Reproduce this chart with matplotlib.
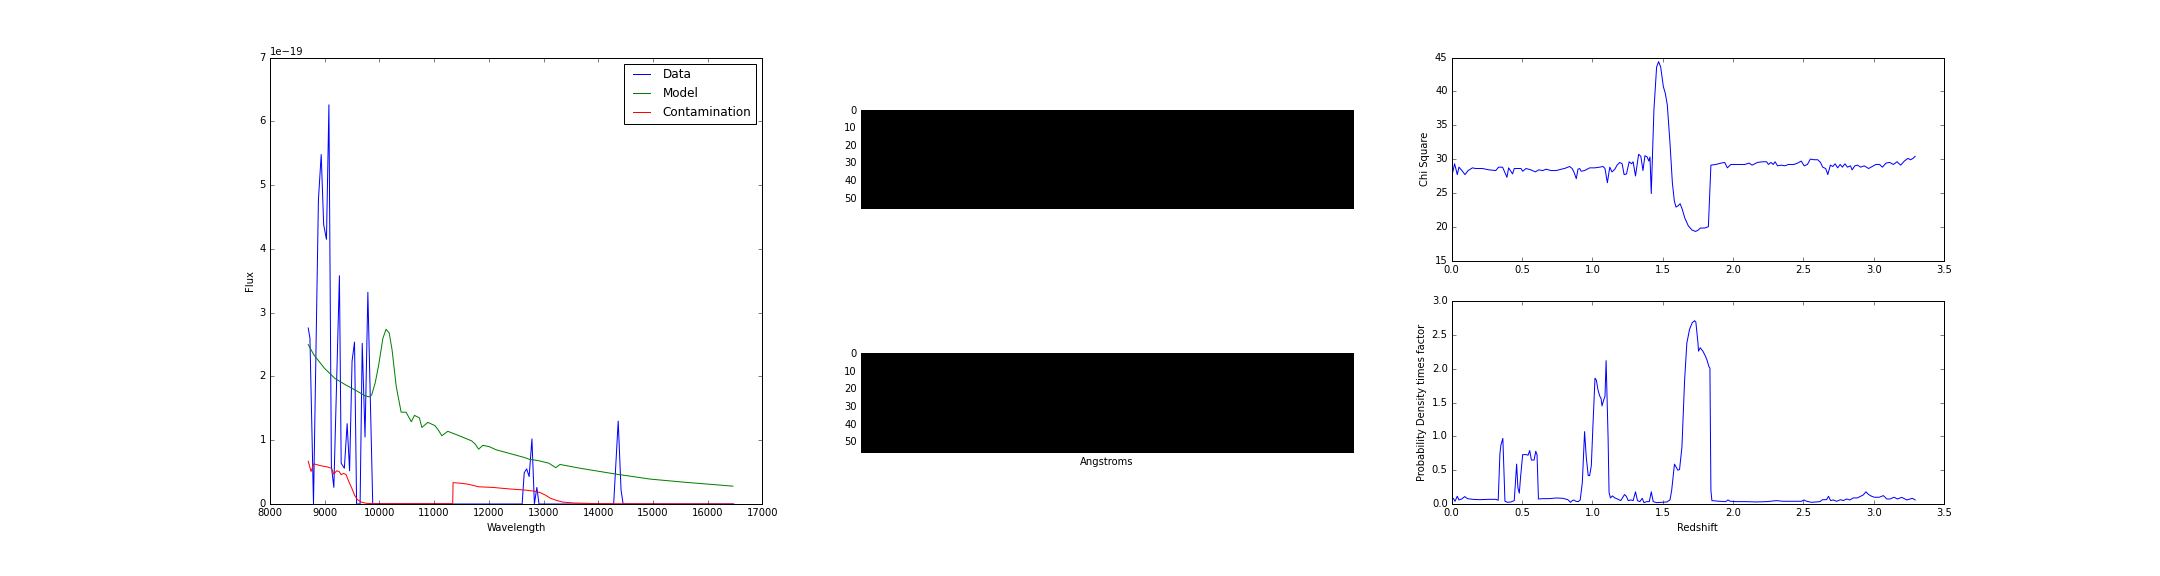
"""Spectrum fit summary: 1D spectrum with model, 2D cutouts, chi^2 and p(z)."""

import matplotlib
matplotlib.use("Agg")
import matplotlib.pyplot as plt
import numpy as np

# --- 1D spectrum (flux in units of 1e-19) ---
data_wave = [8699, 8730, 8795, 8885, 8936, 8981, 9032, 9077, 9122, 9167,
             9269, 9301, 9359, 9410, 9455, 9500, 9545, 9583, 9647, 9686,
             9737, 9789, 9878, 12609, 12647, 12692, 12737, 12788, 12833,
             12878, 12917, 14282, 14365, 14417, 14455, 16480]
data_flux = [2.76, 2.60, 0.0, 4.77, 5.48, 4.38, 4.15, 6.26, 0.59, 0.26,
             3.58, 0.64, 0.56, 1.26, 0.52, 2.24, 2.54, 0.0, 0.0, 2.52,
             1.05, 3.32, 0.0, 0.0, 0.49, 0.55, 0.43, 1.02, 0.0,
             0.26, 0.0, 0.0, 1.30, 0.22, 0.0, 0.0]

model_wave = [8699, 8801, 8994, 9186, 9378, 9571, 9731, 9808, 9859, 9923,
              9987, 10064, 10122, 10179, 10231, 10308, 10397, 10487, 10583,
              10641, 10731, 10776, 10885, 11013, 11077, 11141, 11250, 11430,
              11686, 11750, 11814, 11891, 12006, 12134, 12391, 12647, 12743,
              12904, 13096, 13224, 13301, 13673, 14314, 14955, 15596, 16461]
model_flux = [2.50, 2.34, 2.13, 1.97, 1.87, 1.78, 1.70, 1.68, 1.71, 1.90,
              2.18, 2.60, 2.74, 2.68, 2.42, 1.84, 1.44, 1.44, 1.29,
              1.39, 1.35, 1.20, 1.28, 1.23, 1.16, 1.07, 1.14, 1.08,
              0.99, 0.94, 0.86, 0.92, 0.90, 0.85, 0.79, 0.73, 0.70,
              0.68, 0.64, 0.57, 0.62, 0.56, 0.47, 0.39, 0.34, 0.28]

contam_wave = [8699, 8750, 8801, 8929, 9058, 9122, 9167, 9218, 9263, 9301,
               9346, 9391, 9442, 9494, 9545, 9596, 9667, 9763, 9891, 11340,
               11346, 11493, 11622, 11814, 12070, 12391, 12647, 12840, 12936,
               13032, 13128, 13224, 13352, 13545, 13993, 16461]
contam_flux = [0.67, 0.51, 0.63, 0.60, 0.58, 0.56, 0.47, 0.52, 0.51, 0.46,
               0.48, 0.46, 0.35, 0.25, 0.14, 0.07, 0.03, 0.01, 0.005, 0.005,
               0.335, 0.325, 0.31, 0.27, 0.26, 0.235, 0.22, 0.20, 0.18,
               0.14, 0.09, 0.06, 0.03, 0.016, 0.005, 0.0]

# --- 2D spectra (blank, all zero) ---
spec2d_top = np.zeros((56, 280))
spec2d_bottom = np.zeros((56, 280))

# --- chi square vs redshift ---
chi_z = [0.0, 0.007, 0.021, 0.040, 0.052, 0.069, 0.095, 0.117, 0.148, 0.171,
         0.219, 0.267, 0.314, 0.333, 0.362, 0.393, 0.405, 0.421, 0.433, 0.445,
         0.469, 0.493, 0.505, 0.529, 0.564, 0.595, 0.619, 0.648, 0.671, 0.707,
         0.743, 0.779, 0.802, 0.838, 0.857, 0.871, 0.886, 0.898, 0.910, 0.921,
         0.945, 0.981, 1.017, 1.052, 1.076, 1.090, 1.107, 1.124, 1.140, 1.160,
         1.176, 1.195, 1.212, 1.226, 1.243, 1.262, 1.279, 1.290, 1.307, 1.329,
         1.345, 1.360, 1.374, 1.390, 1.402, 1.410, 1.419, 1.438, 1.457, 1.471,
         1.486, 1.505, 1.519, 1.533, 1.552, 1.569, 1.583, 1.595, 1.610, 1.624,
         1.639, 1.657, 1.683, 1.709, 1.734, 1.753, 1.768, 1.799, 1.825, 1.843,
         1.877, 1.916, 1.941, 1.960, 1.985, 2.032, 2.084, 2.115, 2.136, 2.174,
         2.213, 2.239, 2.252, 2.270, 2.286, 2.299, 2.317, 2.343, 2.369, 2.394,
         2.433, 2.459, 2.485, 2.506, 2.529, 2.550, 2.576, 2.602, 2.622, 2.638,
         2.659, 2.674, 2.692, 2.710, 2.726, 2.744, 2.762, 2.778, 2.796, 2.814,
         2.835, 2.847, 2.866, 2.886, 2.907, 2.933, 2.964, 2.990, 3.016, 3.042,
         3.062, 3.088, 3.114, 3.140, 3.166, 3.192, 3.218, 3.244, 3.262, 3.280,
         3.295]
chi_val = [28.4, 28.0, 29.3, 27.7, 28.8, 28.4, 27.7, 28.3, 28.7, 28.6,
           28.6, 28.4, 28.3, 28.8, 28.8, 27.3, 28.7, 28.2, 27.8, 28.6,
           28.6, 28.6, 28.2, 28.6, 28.4, 28.1, 28.4, 28.3, 28.5, 28.3,
           28.3, 28.5, 28.6, 28.9, 28.6, 28.0, 27.1, 28.5, 28.6, 28.2,
           28.3, 28.7, 28.7, 28.8, 28.9, 28.6, 26.5, 28.8, 28.1, 28.5,
           29.1, 29.5, 29.3, 27.7, 27.8, 29.6, 29.3, 29.6, 27.5, 30.7,
           30.4, 28.3, 30.5, 30.3, 29.7, 30.3, 24.9, 37.3, 43.6, 44.4,
           43.6, 40.7, 39.7, 38.0, 32.4, 26.5, 23.8, 22.9, 23.1, 23.4,
           22.6, 21.3, 20.1, 19.5, 19.3, 19.5, 19.8, 19.8, 20.0, 29.1,
           29.2, 29.4, 29.5, 28.7, 29.2, 29.2, 29.2, 29.4, 29.1, 29.5,
           29.6, 29.6, 29.2, 29.5, 29.2, 29.6, 29.0, 29.1, 29.0, 29.2,
           29.2, 29.4, 29.7, 29.0, 29.2, 30.0, 29.9, 29.9, 29.5, 28.8,
           28.6, 27.7, 29.1, 28.9, 29.3, 28.7, 29.2, 28.8, 29.3, 28.8,
           29.0, 28.4, 29.0, 29.1, 28.8, 29.0, 28.6, 28.9, 29.2, 29.2,
           28.8, 29.4, 29.5, 29.2, 29.6, 29.1, 29.7, 30.1, 29.9, 30.1,
           30.4]

# --- probability density vs redshift ---
pdf_z = [0.0, 0.012, 0.024, 0.040, 0.052, 0.071, 0.093, 0.112, 0.148, 0.195,
         0.267, 0.314, 0.331, 0.343, 0.350, 0.364, 0.379, 0.398, 0.421, 0.445,
         0.462, 0.471, 0.481, 0.490, 0.505, 0.533, 0.543, 0.555, 0.567, 0.586,
         0.598, 0.607, 0.617, 0.648, 0.695, 0.743, 0.790, 0.826, 0.845, 0.857,
         0.869, 0.883, 0.900, 0.914, 0.929, 0.945, 0.957, 0.971, 0.981, 0.993,
         1.005, 1.019, 1.029, 1.040, 1.052, 1.062, 1.069, 1.081, 1.090, 1.098,
         1.112, 1.119, 1.129, 1.143, 1.160, 1.183, 1.202, 1.214, 1.229, 1.243,
         1.255, 1.274, 1.290, 1.307, 1.321, 1.338, 1.355, 1.367, 1.386, 1.405,
         1.419, 1.433, 1.457, 1.493, 1.529, 1.552, 1.564, 1.584, 1.608, 1.620,
         1.637, 1.656, 1.672, 1.691, 1.710, 1.727, 1.736, 1.751, 1.755, 1.767,
         1.786, 1.803, 1.815, 1.829, 1.836, 1.843, 1.850, 1.905, 1.948, 1.964,
         1.981, 2.024, 2.095, 2.166, 2.238, 2.309, 2.356, 2.428, 2.487, 2.504,
         2.523, 2.558, 2.618, 2.637, 2.665, 2.679, 2.694, 2.713, 2.736, 2.765,
         2.784, 2.808, 2.831, 2.855, 2.884, 2.907, 2.926, 2.945, 2.964, 2.986,
         3.005, 3.021, 3.040, 3.069, 3.093, 3.116, 3.145, 3.168, 3.200, 3.236,
         3.275, 3.295]
pdf_val = [0.074, 0.084, 0.04, 0.114, 0.06, 0.074, 0.109, 0.079, 0.069, 0.064,
           0.069, 0.069, 0.055, 0.74, 0.87, 0.97, 0.04, 0.025, 0.03, 0.05,
           0.59, 0.24, 0.16, 0.40, 0.73, 0.73, 0.72, 0.79, 0.65, 0.65,
           0.78, 0.73, 0.074, 0.079, 0.079, 0.089, 0.084, 0.064, 0.025, 0.05,
           0.06, 0.04, 0.035, 0.06, 0.32, 1.07, 0.69, 0.42, 0.42, 0.57,
           1.19, 1.86, 1.83, 1.69, 1.60, 1.56, 1.45, 1.54, 1.59, 2.12,
           0.99, 0.17, 0.09, 0.12, 0.09, 0.07, 0.05, 0.09, 0.14, 0.11,
           0.05, 0.06, 0.05, 0.18, 0.05, 0.035, 0.084, 0.02, 0.035, 0.035,
           0.18, 0.035, 0.02, 0.025, 0.03, 0.06, 0.20, 0.59, 0.50, 0.51,
           0.84, 1.83, 2.38, 2.58, 2.68, 2.71, 2.69, 2.38, 2.26, 2.31,
           2.26, 2.19, 2.13, 2.03, 2.01, 0.20, 0.05, 0.04, 0.035, 0.06,
           0.04, 0.035, 0.035, 0.03, 0.035, 0.05, 0.04, 0.04, 0.04, 0.06,
           0.04, 0.025, 0.035, 0.064, 0.064, 0.114, 0.05, 0.06, 0.04, 0.064,
           0.05, 0.074, 0.06, 0.09, 0.09, 0.114, 0.134, 0.18, 0.14, 0.114,
           0.10, 0.10, 0.10, 0.124, 0.074, 0.074, 0.10, 0.074, 0.098, 0.06,
           0.084, 0.06]

plt.style.use("classic")
plt.rcParams["font.size"] = 10
plt.rcParams["legend.fontsize"] = 12
plt.rcParams["figure.facecolor"] = "white"

fig = plt.figure(figsize=(30, 8), dpi=72)
fig.subplots_adjust(left=0.125, right=0.9, bottom=0.125, top=0.9,
                    wspace=0.2, hspace=0.2)

# spectrum
ax = fig.add_subplot(1, 3, 1)
ax.plot(data_wave, np.array(data_flux) * 1e-19, color="b", label="Data")
ax.plot(model_wave, np.array(model_flux) * 1e-19, color="g", label="Model")
ax.plot(contam_wave, np.array(contam_flux) * 1e-19, color="r",
        label="Contamination")
ax.set_xlim(8000, 17000)
ax.set_ylim(0, 7e-19)
ax.set_xlabel("Wavelength")
ax.set_ylabel("Flux")
ax.legend(loc="upper right")

# 2D cutouts
ax = fig.add_subplot(2, 3, 2)
ax.imshow(spec2d_top, cmap="gray", interpolation="nearest")
ax.set_xticks([])

ax = fig.add_subplot(2, 3, 5)
ax.imshow(spec2d_bottom, cmap="gray", interpolation="nearest")
ax.set_xticks([])
ax.set_xlabel("Angstroms")

# chi square
ax = fig.add_subplot(2, 3, 3)
ax.plot(chi_z, chi_val, color="b")
ax.set_xlim(0, 3.5)
ax.set_ylim(15, 45)
ax.set_ylabel("Chi Square")

# probability density
ax = fig.add_subplot(2, 3, 6)
ax.plot(pdf_z, pdf_val, color="b")
ax.set_xlim(0, 3.5)
ax.set_ylim(0, 3.0)
ax.set_xlabel("Redshift")
ax.set_ylabel("Probability Density times factor")

fig.savefig("out.png", dpi=72, facecolor="white")
